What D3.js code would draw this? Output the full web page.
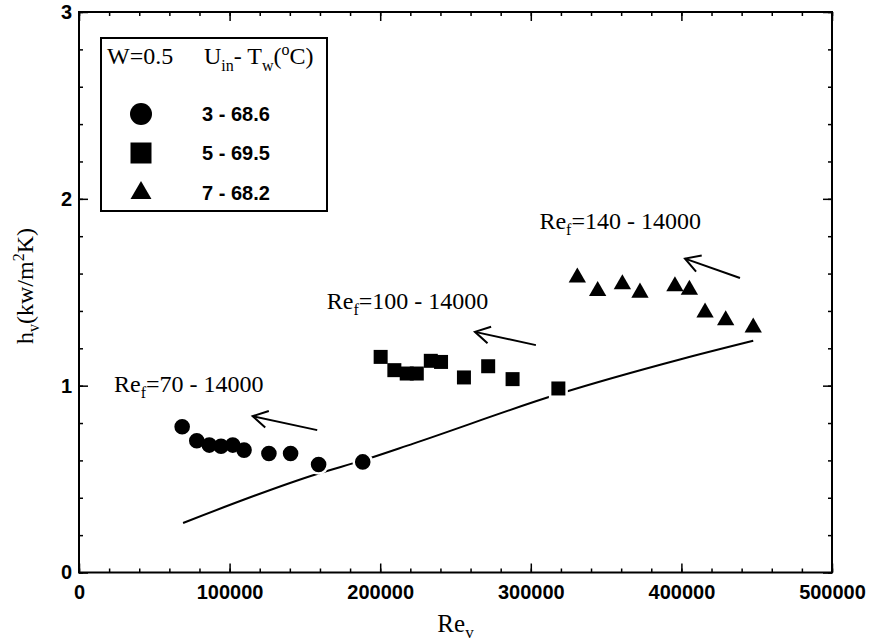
<!DOCTYPE html>
<html>
<head>
<meta charset="utf-8">
<script src="https://cdn.jsdelivr.net/npm/d3@7"></script>
<style>
  body { margin: 0; background: #fff; }
  .tick text { font-family: "Liberation Sans", Arial, sans-serif; font-weight: bold; font-size: 20px; fill: #000; }
  .serif { font-family: "Liberation Serif", "Times New Roman", serif; fill: #000; }
</style>
</head>
<body>
<script>
// values
var reCircle = [68500, 78200, 86500, 94300, 102100, 109600, 126100, 140500, 159100, 188400];
var hCircle  = [0.780, 0.705, 0.682, 0.676, 0.682, 0.655, 0.637, 0.637, 0.578, 0.592];
var reSquare = [200300, 209400, 217600, 224300, 233600, 240400, 255600, 271700, 287900, 318300];
var hSquare  = [1.154, 1.083, 1.065, 1.065, 1.133, 1.127, 1.044, 1.104, 1.035, 0.985];
var reTri    = [330900, 344400, 360800, 372500, 395700, 405300, 415700, 429400, 447700];
var hTri     = [1.579, 1.507, 1.543, 1.498, 1.532, 1.514, 1.391, 1.350, 1.311];
var reLine   = [69100, 159100, 188400, 222000, 318300, 399000, 447700];
var hLine    = [0.265, 0.530, 0.600, 0.690, 0.955, 1.140, 1.240];

var xTicks = [0, 100000, 200000, 300000, 400000, 500000];
var yTicks = [0, 1, 2, 3];
var legendLabels = ["3 - 68.6", "5 - 69.5", "7 - 68.2"];

// annotations: Re_f ranges, text anchor and arrow (tail -> tip) in data units
var annotRef   = ["70 - 14000", "100 - 14000", "140 - 14000"];
var annotTextRe = [23300, 164500, 305700];
var annotTextH  = [0.966, 1.413, 1.837];
var arrowTailRe = [158200, 303400, 438900];
var arrowTailH  = [0.762, 1.217, 1.576];
var arrowTipRe  = [115300, 262900, 402400];
var arrowTipH   = [0.837, 1.288, 1.680];

var width = 873, height = 643;
var pLeft = 79, pRight = 832, pTop = 12, pBottom = 572.5;

var svg = d3.select("body").append("svg").attr("width", width).attr("height", height);

var x = d3.scaleLinear().domain([0, 500000]).range([pLeft, pRight]);
var y = d3.scaleLinear().domain([0, 3]).range([pBottom, pTop]);

var minorX = d3.range(0, 500001, 20000);
var minorY = d3.range(0, 3.01, 0.2);

// axes, ticks pointing inward on all four sides
function addAxis(axis, tx, ty) {
    var g = svg.append("g").attr("transform", "translate(" + tx + "," + ty + ")").call(axis);
    g.select(".domain").remove();
    g.selectAll(".tick line").attr("stroke", "#000").attr("stroke-width", 1.5);
    return g;
}
addAxis(d3.axisBottom(x).tickValues(minorX).tickSize(-4).tickFormat(""), 0, pBottom);
addAxis(d3.axisBottom(x).tickValues(xTicks).tickSize(-9).tickPadding(12).tickFormat(d3.format("d")), 0, pBottom);
addAxis(d3.axisTop(x).tickValues(minorX).tickSize(-4).tickFormat(""), 0, pTop);
addAxis(d3.axisTop(x).tickValues(xTicks).tickSize(-9).tickFormat(""), 0, pTop);
addAxis(d3.axisLeft(y).tickValues(minorY).tickSize(-4).tickFormat(""), pLeft, 0);
addAxis(d3.axisLeft(y).tickValues(yTicks).tickSize(-9).tickPadding(7).tickFormat(d3.format("d")), pLeft, 0);
addAxis(d3.axisRight(y).tickValues(minorY).tickSize(-4).tickFormat(""), pRight, 0);
addAxis(d3.axisRight(y).tickValues(yTicks).tickSize(-9).tickFormat(""), pRight, 0);

svg.append("rect")
    .attr("x", pLeft).attr("y", pTop)
    .attr("width", pRight - pLeft).attr("height", pBottom - pTop)
    .attr("fill", "none").attr("stroke", "#000").attr("stroke-width", 2);

// axis titles
svg.append("text").attr("class", "serif")
    .attr("x", x(250000)).attr("y", 632)
    .attr("text-anchor", "middle").attr("font-size", 25)
    .call(function (t) {
        t.append("tspan").text("Re");
        t.append("tspan").attr("font-size", 17).attr("dy", 6).text("v");
    });

svg.append("text").attr("class", "serif")
    .attr("transform", "translate(33,344) rotate(-90)")
    .attr("font-size", 24)
    .call(function (t) {
        t.append("tspan").text("h");
        t.append("tspan").attr("font-size", 16).attr("dy", 6).text("v");
        t.append("tspan").attr("dy", -6).text("(kw/m");
        t.append("tspan").attr("font-size", 16).attr("dy", -9).text("2");
        t.append("tspan").attr("dy", 9).text("K)");
    });

// fitted curve
var lineData = reLine.map(function (d, i) { return [d, hLine[i]]; });
svg.append("path")
    .datum(lineData)
    .attr("fill", "none").attr("stroke", "#000").attr("stroke-width", 2)
    .attr("d", d3.line().curve(d3.curveMonotoneX)
        .x(function (d) { return x(d[0]); }).y(function (d) { return y(d[1]); }));

// markers
var circleSym = d3.symbol().type(d3.symbolCircle).size(Math.PI * 7.8 * 7.8);
var squareSym = d3.symbol().type(d3.symbolSquare).size(14 * 14);
var triSym = d3.symbol().type(d3.symbolTriangle).size(130);

var series = [
    { re: reCircle, h: hCircle, sym: circleSym },
    { re: reSquare, h: hSquare, sym: squareSym },
    { re: reTri, h: hTri, sym: triSym }
];

// white halo first, so the curve is broken where a marker sits on it
["halo", "mark"].forEach(function (pass) {
    series.forEach(function (s) {
        svg.append("g").selectAll("path")
            .data(s.re.map(function (d, i) { return [d, s.h[i]]; }))
            .enter().append("path")
            .attr("d", s.sym)
            .attr("transform", function (d) { return "translate(" + x(d[0]) + "," + y(d[1]) + ")"; })
            .attr("fill", pass === "halo" ? "#fff" : "#000")
            .attr("stroke", pass === "halo" ? "#fff" : "none")
            .attr("stroke-width", 5);
    });
});

// annotations
annotRef.forEach(function (txt, i) {
    svg.append("text").attr("class", "serif")
        .attr("x", x(annotTextRe[i])).attr("y", y(annotTextH[i]))
        .attr("font-size", 24)
        .call(function (t) {
            t.append("tspan").text("Re");
            t.append("tspan").attr("font-size", 16).attr("dy", 6).text("f");
            t.append("tspan").attr("dy", -6).text("=" + txt);
        });

    var x1 = x(arrowTailRe[i]), y1 = y(arrowTailH[i]);
    var x2 = x(arrowTipRe[i]), y2 = y(arrowTipH[i]);
    var ang = Math.atan2(y1 - y2, x1 - x2);
    var len = 17, spread = Math.PI / 6;
    var g = svg.append("g").attr("fill", "none").attr("stroke", "#000").attr("stroke-width", 2);
    g.append("line").attr("x1", x1).attr("y1", y1).attr("x2", x2).attr("y2", y2);
    g.append("path").attr("d",
        "M" + (x2 + len * Math.cos(ang - spread)) + "," + (y2 + len * Math.sin(ang - spread)) +
        "L" + x2 + "," + y2 +
        "L" + (x2 + len * Math.cos(ang + spread)) + "," + (y2 + len * Math.sin(ang + spread)));
});

// legend
var leg = svg.append("g");
leg.append("rect")
    .attr("x", 101).attr("y", 38).attr("width", 226).attr("height", 173)
    .attr("fill", "#fff").attr("stroke", "#000").attr("stroke-width", 2);
leg.append("text").attr("class", "serif").attr("x", 107).attr("y", 64).attr("font-size", 24).text("W=0.5");
leg.append("text").attr("class", "serif").attr("x", 204).attr("y", 64).attr("font-size", 24)
    .call(function (t) {
        t.append("tspan").text("U");
        t.append("tspan").attr("font-size", 16).attr("dy", 7).text("in");
        t.append("tspan").attr("dy", -7).text("- T");
        t.append("tspan").attr("font-size", 16).attr("dy", 7).text("w");
        t.append("tspan").attr("dy", -7).text("(");
        t.append("tspan").attr("font-size", 16).attr("dy", -9).text("o");
        t.append("tspan").attr("dy", 9).text("C)");
    });

var legSyms = [
    d3.symbol().type(d3.symbolCircle).size(Math.PI * 11 * 11),
    d3.symbol().type(d3.symbolSquare).size(21 * 21),
    d3.symbol().type(d3.symbolTriangle).size(190)
];
var legY = [114, 153, 193];
legendLabels.forEach(function (lab, i) {
    leg.append("path").attr("d", legSyms[i])
        .attr("transform", "translate(141," + legY[i] + ")").attr("fill", "#000");
    leg.append("text").attr("x", 202).attr("y", legY[i] + 7)
        .attr("font-family", "Liberation Sans, Arial, sans-serif")
        .attr("font-weight", "bold").attr("font-size", 20).text(lab);
});
</script>
</body>
</html>
